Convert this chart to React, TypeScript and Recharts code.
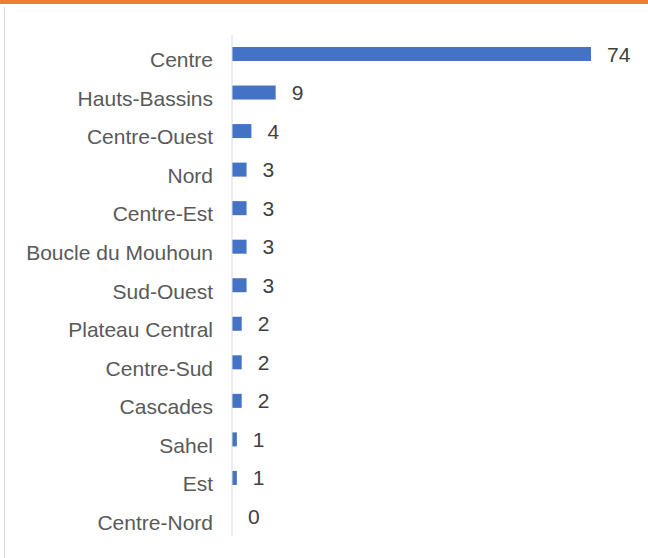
import { BarChart, Bar, XAxis, YAxis } from "recharts";

const regions = [
  "Centre",
  "Hauts-Bassins",
  "Centre-Ouest",
  "Nord",
  "Centre-Est",
  "Boucle du Mouhoun",
  "Sud-Ouest",
  "Plateau Central",
  "Centre-Sud",
  "Cascades",
  "Sahel",
  "Est",
  "Centre-Nord",
];
const counts = [74, 9, 4, 3, 3, 3, 3, 2, 2, 2, 1, 1, 0];

const data = regions.map((name, i) => ({ name, value: counts[i] }));

const FONT = "'Liberation Sans', Arial, sans-serif";

function RegionTick({ x, y, payload }: any) {
  return (
    <text x={x} y={y} dy={13} textAnchor="end" fill="#595959" fontSize={21} fontFamily={FONT}>
      {payload.value}
    </text>
  );
}

// bar + value label drawn together so the zero-width bar still gets its "0"
function BarWithLabel({ x, y, width, height, fill, value }: any) {
  const w = Math.max(0, Number(width) || 0);
  const v = Array.isArray(value) ? value[1] - value[0] : value;
  return (
    <g>
      {w > 0 && <rect x={x} y={y} width={w} height={height} fill={fill} />}
      <text
        x={Number(x) + w + 16}
        y={Number(y) + Number(height) / 2 + 7.5}
        fill="#404040"
        fontSize={21}
        fontFamily={FONT}
      >
        {v}
      </text>
    </g>
  );
}

export default function App() {
  return (
    <div style={{ position: "absolute", left: 0, top: 0, width: 648, height: 558, background: "#fff" }}>
      <div style={{ position: "absolute", left: 0, top: 0, width: 648, height: 4, background: "#ED7D31" }} />
      <div style={{ position: "absolute", left: 4, top: 7, width: 1, height: 551, background: "#d9d9d9" }} />
      <BarChart
        layout="vertical"
        width={648}
        height={558}
        data={data}
        margin={{ top: 35, right: 57, left: 0, bottom: 22 }}
      >
        <XAxis type="number" domain={[0, 74]} hide />
        <YAxis
          type="category"
          dataKey="name"
          width={232}
          axisLine={{ stroke: "#d9d9d9" }}
          tickLine={false}
          tickSize={0}
          tickMargin={19}
          interval={0}
          tick={<RegionTick />}
        />
        <Bar dataKey="value" fill="#4472C4" barSize={14} isAnimationActive={false} shape={<BarWithLabel />} />
      </BarChart>
    </div>
  );
}
